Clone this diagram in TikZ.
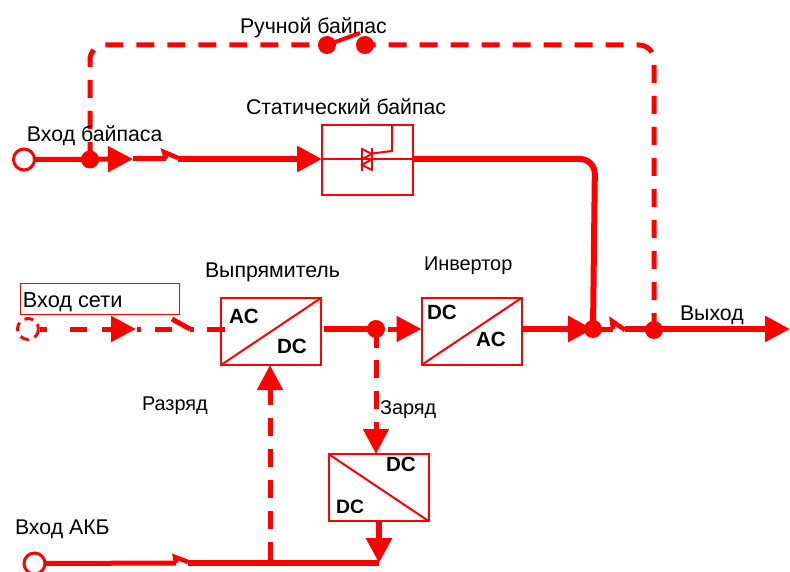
\documentclass[tikz,border=0pt]{standalone}
\usepackage{fontspec}
\setmainfont{Liberation Sans}
\usetikzlibrary{arrows.meta}
\definecolor{upsred}{RGB}{255,0,0}
\tikzset{
  lab/.style={anchor=base west,inner sep=0pt,outer sep=0pt,text=black,font=\fontsize{21.3}{23}\selectfont},
  slab/.style={lab,font=\fontsize{19.9}{22}\selectfont},
  blab/.style={anchor=base west,inner sep=0pt,outer sep=0pt,text=black,font=\fontsize{20.6}{22}\selectfont\bfseries},
  bus/.style={draw=upsred,line width=5pt},
  busb/.style={draw=upsred,line width=6pt},
  dbus/.style={draw=upsred,line width=5pt,dash pattern=on 18pt off 13pt},
  tip/.style={-{Triangle[length=25pt,width=25pt,color=upsred]}},
  dot/.style={circle,fill=upsred,draw=none,minimum size=18pt,inner sep=0pt,outer sep=0pt},
  port/.style={circle,fill=white,draw=upsred,line width=3pt,minimum size=21pt,inner sep=0pt,outer sep=0pt},
  unit/.style={rectangle,draw=upsred,line width=2pt,minimum width=100pt,minimum height=67pt,inner sep=0pt,outer sep=0pt},
  thin/.style={draw=upsred,line width=2pt},
  blade/.style={draw=upsred,line width=4.5pt,line join=miter},
}
\begin{document}
\begin{tikzpicture}[x=1pt,y=-1pt]
\useasboundingbox (0,0) rectangle (790,572);
% nodes
\node[unit,minimum width=91pt,minimum height=70pt] (static) at (367.5,160) {};
\node[unit] (rect) at (271,331.5) {};
\node[unit] (inv) at (471.5,331.5) {};
\node[unit] (chg) at (378.5,487.5) {};
\node[rectangle,draw=upsred,line width=1pt,minimum width=159pt,minimum height=31pt,inner sep=0pt] (mainsbox) at (99.5,298.5) {};
% free connector points
\coordinate (bypA) at (133,159);
\coordinate (bypB) at (133,159);
\coordinate (bypSa) at (166,159);
\coordinate (bypSb) at (164,152);
\coordinate (bypSc) at (178,158);
\coordinate (bypC) at (178,159);
\coordinate (mainA) at (40,329);
\coordinate (mainB) at (136,329);
\coordinate (mainC) at (137,329);
\coordinate (mainSa) at (172,319);
\coordinate (mainSb) at (190,329);
\coordinate (mainD) at (225,329);
\coordinate (topL) at (90,45);
\coordinate (topR) at (654,45);
\coordinate (statC) at (595,159);
\coordinate (rectOut) at (324,329);
\coordinate (midOut) at (388,329);
\coordinate (invOut) at (523,329);
\coordinate (invTip) at (593,329);
\coordinate (outSa) at (613,329);
\coordinate (outSb) at (612,321);
\coordinate (outSc) at (625,330);
\coordinate (outEnd) at (790,329);
\coordinate (akbA) at (176,563);
\coordinate (akbSa) at (175,557);
\coordinate (akbSb) at (188,562);
\coordinate (akbC) at (379,563);
\coordinate (disB) at (270,560);
% joints
\node[dot] (jbyp) at (90,159.5) {};
\node[dot] (jm1) at (327,45) {};
\node[dot] (jm2) at (365,45) {};
\node[dot] (jdc) at (376,329) {};
\node[dot] (jo1) at (593,329) {};
\node[dot] (jo2) at (654,330) {};
% connectors
\draw[dbus,rounded corners=15pt] (90,160) -- (topL) -- (jm1.center);
\draw[dbus,rounded corners=15pt] (654,331) -- (topR) -- (jm2.center);
\draw[draw=upsred,line width=4pt] (jm1.center) -- (360,33);
\node[port] (inbyp) at (24,159.5) {};
\draw[bus,tip] (inbyp.east) -- (bypA);
\draw[bus] (bypB) -- (bypSa);
\draw[blade] (bypSa) -- (bypSb) -- (bypSc);
\draw[busb,tip] (bypC) -- (static.west |- bypC);
\draw[thin] (static.west |- bypC) -- (static.east |- bypC);
\draw[busb,rounded corners=15pt] (static.east |- bypC) -- (statC) -- (jo1.center);
% triac
\draw[thin] (362,148) -- (362,171) (372,148) -- (372,171);
\draw[thin] (362,149) -- (372,154) -- (362,159) (372,159) -- (362,165) -- (372,170);
\draw[thin] (372,153.5) -- (392,151) -- (392,125);
% mains
\node[port,dash pattern=on 9pt off 6pt,dash phase=4pt] (inmain) at (28,329) {};
\draw[bus,tip,dash pattern=on 7pt off 23pt on 17pt off 15pt on 100pt] (mainA) -- (mainB);
\draw[bus,dash pattern=on 4pt off 14pt on 17pt off 50pt] (mainC) -- (mainSa |- mainC);
\draw[bus] (mainSa) -- (mainSb);
\draw[bus,dash pattern=on 4pt off 13pt on 18pt off 50pt] (mainSb) -- (mainD);
% rectifier
\draw[thin] (rect.south west) -- (rect.north east);
\draw[busb] (rectOut) -- (jdc.center);
\draw[bus,tip] (midOut) -- (inv.west |- midOut);
\draw[thin] (inv.south west) -- (inv.north east);
\draw[busb,tip] (invOut) -- (invTip);
\draw[bus] (jo1.center) -- (outSa);
\draw[blade] (outSa) -- (outSb) -- (outSc);
\draw[bus,line width=5.5pt,tip] (outSc |- outEnd) -- (outEnd);
% charge
\draw[bus,tip,dash pattern=on 19pt off 12pt on 18pt off 13pt on 18pt off 13pt on 100pt] (jdc.center) -- (jdc.center |- chg.north);
\draw[thin] (chg.north west) -- (chg.south east);
\draw[busb,tip] (379,521) -- (akbC);
% battery
\node[port] (inakb) at (34.5,563.5) {};
\draw[bus] (inakb.east) -- (akbA);
\draw[blade] (akbA) -- (akbSa) -- (akbSb);
\draw[busb] (akbSb |- akbC) -- (akbC);
\draw[bus,tip,dash pattern=on 18pt off 13pt] (disB) -- (disB |- rect.south);
% labels
\node[lab] (t1) at (240,34) {Ручной байпас};
\node[lab] (t2) at (246,115) {Статический байпас};
\node[lab] (t3) at (27,142) {Вход байпаса};
\node[lab] (t4) at (205,277) {Выпрямитель};
\node[slab] (t5) at (424,271) {Инвертор};
\node[lab,font=\fontsize{21.7}{23}\selectfont] (t6) at (23,307) {Вход сети};
\node[lab] (t7) at (680,320) {Выход};
\node[slab] (t8) at (142,410) {Разряд};
\node[slab] (t9) at (380,414) {Заряд};
\node[lab] (t10) at (15,534) {Вход АКБ};
\node[blab] (b1) at (229,323) {AC};
\node[blab] (b2) at (277,353) {DC};
\node[blab] (b3) at (427,319) {DC};
\node[blab] (b4) at (476,346) {AC};
\node[blab] (b5) at (386,471) {DC};
\node[blab,font=\fontsize{19.4}{21}\selectfont\bfseries] (b6) at (336,513) {DC};
\end{tikzpicture}
\end{document}
